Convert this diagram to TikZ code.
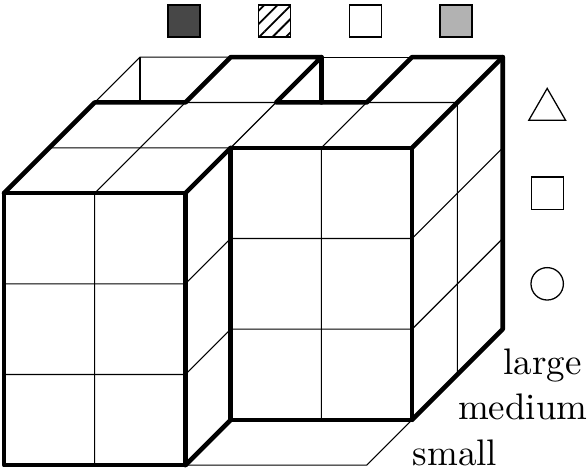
\documentclass[tikz,border=0pt]{standalone}
\usepackage{xcolor}
\usetikzlibrary{shapes.geometric, patterns.meta, positioning}

\begin{document}
\begin{tikzpicture}[x=24.9pt, y=24.9pt, node distance=24.9pt, auto]
\tikzstyle{swatch} = [rectangle, draw, line width=0.4pt, minimum size=8.8pt, inner sep=0pt]
\tikzstyle{marker} = [draw, line width=0.35pt, inner sep=0pt]
\tikzstyle{sizelabel} = [anchor=base west, inner sep=0pt, scale=1.015, transform shape]
\tikzstyle{grid} = [draw, line width=0.3pt]
\tikzstyle{edge} = [draw, line width=1.25pt, line join=round, line cap=round]
\useasboundingbox (-0.044,-0.055) rectangle (6.44,5.13);
% thin lines
\path [grid] (1,0) -- (1,3) -- (2,4) -- (3,4);
\path [grid] (0,1) -- (2,1) -- (2.5,1.5);
\path [grid] (0,2) -- (2,2) -- (2.5,2.5);
\path [grid] (0.5,3.5) -- (2.5,3.5) -- (3,4);
\path [grid] (1,4) -- (1.5,4.5) -- (2.5,4.5);
\path [grid] (1.5,4) -- (1.5,4.5);
\path [grid] (3.5,4.5) -- (4.5,4.5);
\path [grid] (3.5,0.5) -- (3.5,3.5) -- (4,4) -- (5,4) -- (5,1);
\path [grid] (2.5,1.5) -- (4.5,1.5) -- (5.5,2.5);
\path [grid] (2.5,2.5) -- (4.5,2.5) -- (5.5,3.5);
\path [grid] (2,0) -- (4,0) -- (4.5,0.5);
% thick outline
\path [edge] (0,0) rectangle (2,3);
\path [edge] (2.5,0.5) rectangle (4.5,3.5);
\path [edge] (0,3) -- (1,4) -- (2,4) -- (2.5,4.5) -- (3.5,4.5) -- (3,4) -- (4,4) -- (4.5,4.5) -- (5.5,4.5) -- (5.5,1.5) -- (4.5,0.5);
\path [edge] (2,3) -- (2.5,3.5);
\path [edge] (2,0) -- (2.5,0.5);
\path [edge] (4.5,3.5) -- (5.5,4.5);
\path [edge] (3.5,4.5) -- (3.5,4);
% fill legend
\node [swatch, fill=black!72] (dark) at (1.985,4.9) {};
\node [swatch, pattern={Lines[angle=45, distance=2.6pt, line width=0.5pt]}, right of=dark] (hatched) {};
\node [swatch, right of=hatched] (blank) {};
\node [swatch, fill=black!30, right of=blank] (light) {};
% shape legend
\node [marker, regular polygon, regular polygon sides=3, minimum size=11.7pt] (triangle) at (5.99,3.92) {};
\node [marker, rectangle, minimum size=8.8pt] (square) at (5.99,3) {};
\node [marker, circle, minimum size=8.9pt, below of=square] (round) {};
% size labels
\node [sizelabel] (large) at (5.5,1) {large};
\node [sizelabel] (medium) at (5,0.5) {medium};
\node [sizelabel] (small) at (4.5,0) {small};
\end{tikzpicture}
\end{document}
